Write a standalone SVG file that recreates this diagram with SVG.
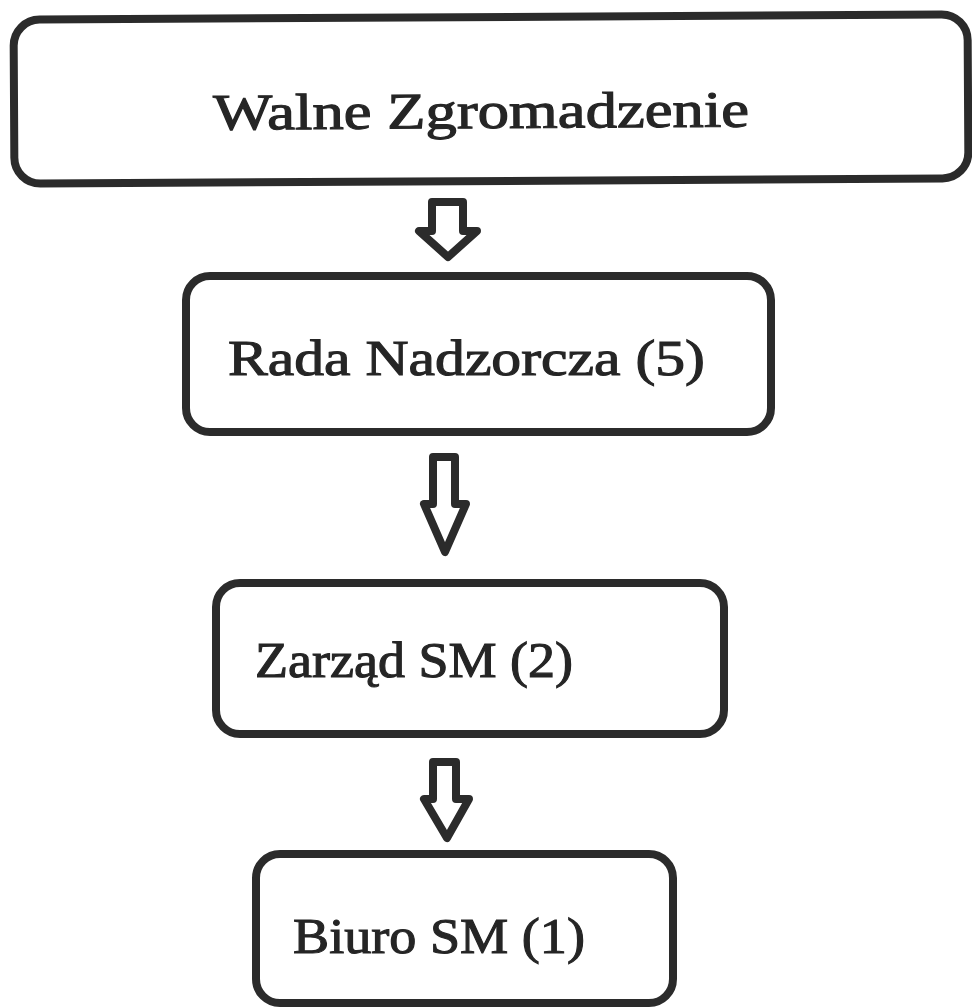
<svg xmlns="http://www.w3.org/2000/svg" width="972" height="1007" viewBox="0 0 972 1007">
<style>
.box{fill:#ffffff;stroke:#2b2b2b;stroke-width:8}
.lbl{font-family:"Liberation Serif","Times New Roman",serif;font-size:51px;fill:#252525;stroke:#252525;stroke-width:1.1}
.arr{fill:#ffffff;stroke:#2b2b2b;stroke-width:8;stroke-linejoin:round}
</style>
<rect width="972" height="1007" fill="#ffffff"/>
<g id="walne-zgromadzenie" transform="rotate(-0.33 491 98)">
<rect class="box" x="14" y="17" width="954" height="164" rx="26"/>
<text class="lbl" x="213" y="128" textLength="536" lengthAdjust="spacingAndGlyphs">Walne Zgromadzenie</text>
</g>
<g id="rada-nadzorcza">
<rect class="box" x="186" y="276" width="585" height="156" rx="24"/>
<text class="lbl" x="228" y="375" textLength="477" lengthAdjust="spacingAndGlyphs">Rada Nadzorcza (5)</text>
</g>
<g id="zarzad-sm">
<rect class="box" x="216" y="583" width="508" height="151" rx="24"/>
<text class="lbl" x="255" y="677" textLength="318" lengthAdjust="spacingAndGlyphs">Zarząd SM (2)</text>
</g>
<g id="biuro-sm">
<rect class="box" x="256" y="854" width="417" height="149" rx="24"/>
<text class="lbl" x="293" y="953" textLength="292" lengthAdjust="spacingAndGlyphs">Biuro SM (1)</text>
</g>
<g id="connectors">
<path class="arr" d="M432,202 H463 V231 H477 L448,257 L419,231 H432 Z"/>
<path class="arr" d="M433,457 H455 V504 H466 L445,552 L424,504 H433 Z"/>
<path class="arr" d="M433,762 H456 V799 H469 L447,838 L424,799 H433 Z"/>
</g>
</svg>
